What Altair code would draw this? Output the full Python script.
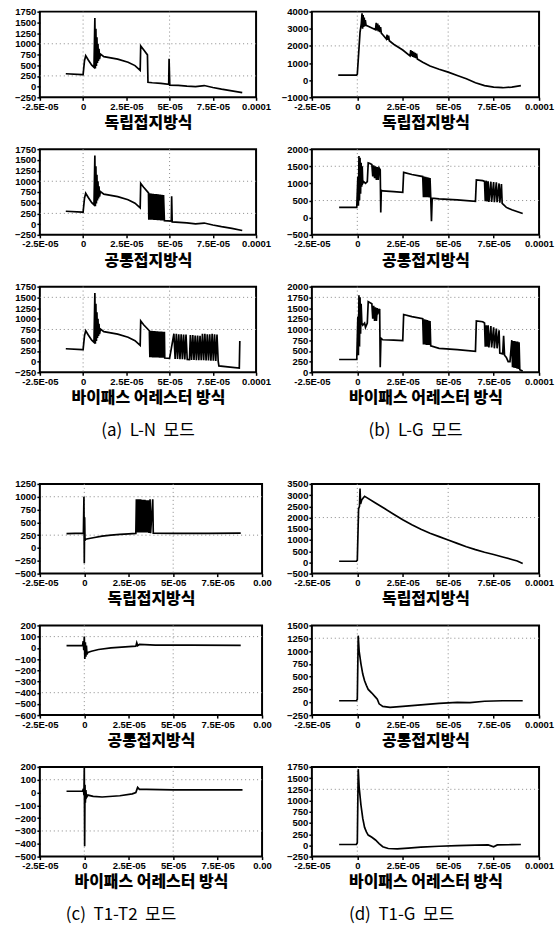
import altair as alt
import pandas as pd

# ---------------- axis ticks / labels ----------------
X_TICKS = [-25, 0, 25, 50, 75, 100]
X_LABELS = ["-2.5E-05", "0", "2.5E-05", "5E-05", "7.5E-05", "0.0001"]
X_LABELS_C = ["-2.5E-05", "0", "2.5E-05", "5E-05", "7.5E-05", "0.00"]
X_GRID = [0, 50]

Y_A = [-250, 0, 250, 500, 750, 1000, 1250, 1500, 1750]
Y_B1 = [-1000, 0, 1000, 2000, 3000, 4000]
Y_B2 = [-500, 0, 500, 1000, 1500, 2000]
Y_B3 = [0, 250, 500, 750, 1000, 1250, 1500, 1750, 2000]
Y_C1 = [-500, -250, 0, 250, 500, 750, 1000, 1250]
Y_C2 = [-600, -500, -400, -300, -200, -100, 0, 100, 200]
Y_C3 = [-500, -400, -300, -200, -100, 0, 100, 200]
Y_D1 = [-500, 0, 500, 1000, 1500, 2000, 2500, 3000, 3500]
Y_D2 = [-250, 0, 250, 500, 750, 1000, 1250, 1500]
Y_D3 = [-250, 0, 250, 500, 750, 1000, 1250, 1500, 1750]

G_A1 = [250, 1000]
G_A2 = [250, 1000]
G_A3 = [750, 1500]
G_B1 = [2000]
G_B2 = [500, 1500]
G_B3 = [1000, 1750]
G_C1 = [250, 1000]
G_C2 = [-400, 100]
G_C3 = [-300, 100]
G_D1 = [2000]
G_D2 = [1250]
G_D3 = [1250]

NB = "\u00a0\u00a0"
PANEL_TITLES = ["독립접지방식", "공통접지방식", "바이패스 어레스터 방식"]
CAPTIONS = [f"(a){NB}L-N{NB}모드", f"(b){NB}L-G{NB}모드",
            f"(c){NB}T1-T2{NB}모드", f"(d){NB}T1-G{NB}모드"]

# ---------------- waveforms (time in microseconds, value) ----------------
A_HEAD = [(-10, 300), (-0.5, 280), (0, 280), (0.8, 600), (1.5, 720), (3, 620), (5, 500),
          (6.3, 450), (6.8, 1600), (7.1, 420), (7.4, 1350), (7.7, 480), (8.0, 1150),
          (8.3, 550), (8.6, 1000), (8.9, 600), (9.2, 880), (9.5, 640), (10, 760),
          (12, 700), (20, 640), (26, 570), (30, 490), (33, 380), (33.3, 950), (35, 860)]

A1 = A_HEAD + [(37.2, 740), (37.5, 100), (40, 90), (45, 75), (49.5, 55), (49.7, 650),
               (50.1, 35), (55, 30), (60, 10), (65, 0), (70, 25), (75, -20), (80, -60),
               (86, -100), (92, -140)]

A2 = A_HEAD + [(37.8, 730),
               (38.0, 100), (38.5, 720), (39.0, 100), (39.5, 715), (40.0, 100), (40.5, 710),
               (41.0, 95), (41.5, 705), (42.0, 95), (42.5, 700), (43.0, 90), (43.5, 695),
               (44.0, 90), (44.5, 690), (45.0, 85), (45.5, 685), (46.0, 85), (46.5, 680),
               (47.0, 80),
               (51.0, 70), (51.2, 650), (51.5, 50), (60, 30), (65, 5), (70, 25), (75, -20),
               (80, -60), (86, -100), (92, -150)]

A3 = A_HEAD + [(38.3, 720),
               (38.6, 100), (39.0, 720), (39.4, 100), (39.8, 718), (40.2, 98), (40.6, 715),
               (41.0, 98), (41.4, 712), (41.8, 96), (42.2, 710), (42.6, 95), (43.0, 708),
               (43.4, 94), (43.8, 705), (44.2, 92), (44.6, 702), (45.0, 90), (45.4, 700),
               (45.8, 90), (46.2, 698), (46.6, 88), (47.0, 695), (47.2, 85),
               (50, 75), (52.5, 650), (53.2, 60), (53.9, 650), (54.6, 60), (55.3, 640),
               (56.0, 55), (56.7, 640), (57.4, 55), (58.1, 630), (58.8, 50), (59.5, 630),
               (60.2, 50), (61.5, 45),
               (62.0, 620), (62.7, 40), (63.4, 620), (64.1, 40), (64.8, 610), (65.5, 35),
               (66.2, 610), (66.9, 35), (67.6, 600), (68.3, 35),
               (69.0, 650), (69.7, 30), (70.4, 650), (71.1, 25), (71.8, 640), (72.5, 25),
               (73.2, 640), (73.9, 20), (74.6, 650), (75.3, 20), (76.0, 640), (76.7, 15),
               (77.4, 630), (78.1, 10),
               (78.5, -100), (85, -130), (90.3, -150), (90.6, 480)]

B1 = [(-10.5, 300), (-0.5, 300), (0, 350), (1.5, 2800), (2.2, 3300), (2.6, 3900), (2.9, 3000),
      (3.2, 3800), (3.5, 3100), (3.8, 3650), (4.1, 3150), (4.4, 3500), (4.8, 3200), (6, 3150),
      (8, 3050), (10, 2950), (10.4, 3350), (10.8, 2900), (11.2, 3300), (11.6, 2850),
      (12.0, 3200), (12.4, 2800), (12.8, 3100), (13.2, 2750), (14, 2650), (16, 2400),
      (16.4, 2650), (16.8, 2350), (17.2, 2600), (17.6, 2300), (20, 2100), (25, 1760),
      (29, 1420), (29.4, 1750), (29.8, 1400), (30.2, 1700), (30.6, 1360), (31.0, 1650),
      (31.4, 1320), (31.8, 1600), (32.2, 1280), (32.6, 1550), (33, 1240), (36, 1050),
      (40, 830), (45, 640), (50, 470), (55, 270), (60, 80), (65, -150), (70, -320),
      (75, -410), (80, -440), (85, -400), (90, -320)]

B2 = [(-10, 300), (-0.3, 300), (0.3, 1200), (0.6, 350), (0.9, 1800), (1.2, 500), (1.5, 1750),
      (1.8, 700), (2.1, 1600), (2.4, 900), (2.7, 1500), (3.0, 1000), (3.5, 1050), (4.5, 1000),
      (5.5, 1050), (6, 1600), (7, 1580), (8, 1550), (8.5, 1200), (9, 1530), (9.5, 1150),
      (10, 1500), (10.5, 1100), (11, 1480), (11.5, 1100), (12, 1450), (12.6, 1400),
      (12.9, 150), (13.2, 800), (14, 780), (20, 760), (25, 740), (25.5, 1320), (30, 1260),
      (36, 1200), (36.4, 600), (36.8, 1200), (37.2, 600), (37.6, 1190), (38, 600),
      (38.4, 1180), (38.8, 600), (39.2, 1170), (39.6, 590), (40, 1160), (40.4, 590),
      (40.8, -100), (41.2, 570), (45, 550), (55, 520), (65, 480), (65.5, 1100), (69, 1080),
      (70, 1060), (70.4, 480), (71, 1080), (71.4, 470), (72, 1060), (72.4, 460), (73.5, 1050),
      (73.9, 460), (75, 1040), (75.4, 450), (76.5, 1030), (76.9, 450), (78, 1000),
      (78.4, 440), (79.3, 980), (79.7, 420), (82, 300), (85, 230), (91, 120)]

B3 = [(-10, 300), (-0.3, 300), (0.3, 1300), (0.6, 400), (0.9, 1800), (1.2, 600), (1.5, 1750),
      (1.8, 900), (2.1, 1600), (2.5, 1150), (3, 1100), (4, 1150), (4.5, 1050), (5.5, 1150),
      (6, 1650), (8, 1600), (8.5, 1250), (9, 1550), (9.5, 1200), (10, 1520), (10.5, 1200),
      (11, 1500), (11.5, 1400), (12.3, 1480), (12.6, 120), (13, 800), (14, 760), (20, 750),
      (25, 740), (25.5, 1350), (30, 1300), (36, 1250), (36.4, 650), (36.8, 1240), (37.2, 650),
      (37.6, 1230), (38, 640), (38.4, 1220), (38.8, 640), (39.2, 1210), (39.6, 640),
      (40, 1200), (40.4, 620), (45, 560), (55, 530), (65, 490), (65.5, 1200), (69, 1180),
      (70, 1150), (70.4, 600), (71, 1100), (71.4, 600), (72, 1100), (72.4, 580), (73.5, 1080),
      (73.9, 580), (75, 1050), (75.4, 560), (76.5, 1020), (76.9, 560), (78, 980), (78.4, 450),
      (80, 430), (80.5, 850), (81, 400), (82, 350), (83, 250), (84, 250), (85, 750),
      (85.4, 120), (85.8, 730), (86.2, 110), (86.6, 730), (87, 100), (87.4, 720), (87.8, 90),
      (88.2, 720), (88.6, 80), (89, 700), (89.4, 60), (91, 30)]

C1 = [(-10, 280), (-0.5, 290), (-0.2, 1000), (0, -300), (0.2, 600), (0.4, 150), (0.8, 170),
      (2, 180), (5, 200), (10, 230), (15, 250), (20, 265), (25, 275), (29, 285),
      (29.3, 950), (29.6, 300), (29.9, 950), (30.2, 300), (30.5, 950), (30.8, 300),
      (31.1, 950), (31.4, 300), (31.7, 950), (32.0, 300), (32.3, 940), (32.6, 300),
      (32.9, 940), (33.2, 300), (33.5, 940), (33.8, 300), (34.1, 940), (34.4, 300),
      (34.7, 930), (35.0, 300), (35.3, 930), (35.6, 300), (36.0, 930), (36.4, 295),
      (37.0, 950), (37.3, 290), (38.5, 950), (38.8, 290), (50, 285), (70, 285), (88, 290)]

C2 = [(-10, 20), (-1, 20), (-0.6, 60), (-0.3, -20), (0, 100), (0.3, -100), (0.6, 50),
      (0.9, -80), (1.2, 20), (1.5, -60), (2, -40), (4, -30), (8, -15), (15, 0), (25, 10),
      (29, 15), (29.5, 45), (30, 20), (31, 30), (40, 25), (60, 25), (88, 22)]

C3 = [(-10, 10), (-1, 10), (-0.5, 30), (-0.2, -20), (0, 200), (0.2, -420), (0.4, 60),
      (0.6, -80), (0.9, 20), (1.2, -40), (2, -20), (5, -30), (10, -35), (20, -25), (27, -10),
      (29, 0), (30, 40), (31, 25), (35, 25), (50, 20), (70, 20), (89, 20)]

D1 = [(-10, 50), (-0.5, 50), (0, 100), (0.7, 2400), (1.2, 2500), (1.5, 3300), (1.8, 2600),
      (2.5, 2800), (4, 2950), (5, 2900), (10, 2650), (15, 2400), (20, 2150), (25, 1900),
      (30, 1680), (35, 1480), (40, 1300), (45, 1150), (50, 1000), (55, 850), (60, 700),
      (65, 570), (70, 450), (75, 350), (80, 240), (85, 130), (88, 60), (91, -50)]

D2 = [(-10, 30), (-0.5, 30), (0, 60), (0.5, 1300), (1, 1000), (2, 750), (3, 550), (4, 420),
      (5, 330), (6, 250), (8, 180), (10, 100), (11, 60), (12, -30), (14, -80), (18, -100),
      (25, -80), (35, -50), (45, -20), (55, 0), (62, -5), (70, 20), (80, 30), (91, 30)]

D3 = [(-10, 20), (-0.5, 20), (0, 60), (0.5, 1700), (1, 1300), (2, 900), (3, 600), (4, 400),
      (5, 300), (6, 230), (8, 180), (10, 120), (12, 40), (14, -30), (17, -70), (22, -80),
      (28, -60), (35, -40), (45, -20), (55, -5), (65, 5), (72, 10), (75, -30), (77, 10),
      (85, 15), (90, 20)]


def label_expr(ticks, labels):
    expr = "''"
    for t, l in reversed(list(zip(ticks, labels))):
        expr = f"datum.value == {t} ? '{l}' : ({expr})"
    return expr


LABEL_FONT = "Liberation Sans"


def panel(pairs, yvals, ygrid, title, xlabels, w, h, caption=None, cap_dx=0):
    df = pd.DataFrame(pairs, columns=["t", "v"])
    xs = alt.Scale(domain=[X_TICKS[0], X_TICKS[-1]], nice=False, zero=False)
    ys = alt.Scale(domain=[yvals[0], yvals[-1]], nice=False, zero=False)
    xaxis = alt.Axis(values=X_TICKS, labelExpr=label_expr(X_TICKS, xlabels), title=title,
                     grid=False, domain=False, ticks=True, tickSize=3, tickColor="black",
                     tickWidth=1.5, labelFont=LABEL_FONT, labelFontSize=9.5,
                     labelFontWeight="bold", labelColor="black", labelPadding=1,
                     labelOverlap=False, labelFlush=False, titleFont="Noto Sans CJK KR",
                     titleFontSize=16, titleFontWeight=900, titleColor="black",
                     titlePadding=4)
    yaxis = alt.Axis(values=yvals, format="d", title=None, grid=False, domain=False,
                     ticks=True, tickSize=3, tickColor="black", tickWidth=1.5,
                     labelFont=LABEL_FONT, labelFontSize=9.5, labelFontWeight="bold",
                     labelColor="black", labelPadding=1, labelOverlap=False,
                     labelFlush=False)
    gx = alt.Chart(pd.DataFrame({"t": X_GRID})).mark_rule(
        color="#888", strokeDash=[1, 3], strokeWidth=1).encode(
        x=alt.X("t:Q", scale=xs, axis=xaxis))
    gy = alt.Chart(pd.DataFrame({"v": ygrid})).mark_rule(
        color="#888", strokeDash=[1, 3], strokeWidth=1).encode(
        y=alt.Y("v:Q", scale=ys, axis=yaxis))
    line = alt.Chart(df).mark_line(color="black", strokeWidth=1.7, clip=True).encode(
        x=alt.X("t:Q", scale=xs, axis=xaxis),
        y=alt.Y("v:Q", scale=ys, axis=yaxis),
        order="idx:Q",
    ).transform_window(idx="row_number()")
    ch = alt.layer(gx, gy, line).properties(width=w, height=h)
    if caption:
        ch = ch.properties(title=alt.TitleParams(
            caption, orient="bottom", anchor="middle", font="Noto Sans CJK KR",
            fontSize=17, fontWeight="normal", color="black", offset=17, dx=cap_dx))
    return ch


WL, WR = 223, 228
HT, HB = 86, 90

a1 = panel(A1, Y_A, G_A1, PANEL_TITLES[0], X_LABELS, 217, HT)
a2 = panel(A2, Y_A, G_A2, PANEL_TITLES[1], X_LABELS, 217, HT)
a3 = panel(A3, Y_A, G_A3, PANEL_TITLES[2], X_LABELS, 217, HT, CAPTIONS[0], 0)
b1 = panel(B1, Y_B1, G_B1, PANEL_TITLES[0], X_LABELS, WR, HT)
b2 = panel(B2, Y_B2, G_B2, PANEL_TITLES[1], X_LABELS, WR, HT)
b3 = panel(B3, Y_B3, G_B3, PANEL_TITLES[2], X_LABELS, WR, HT, CAPTIONS[1], -10)
c1 = panel(C1, Y_C1, G_C1, PANEL_TITLES[0], X_LABELS_C, WL, HB)
c2 = panel(C2, Y_C2, G_C2, PANEL_TITLES[1], X_LABELS_C, WL, HB)
c3 = panel(C3, Y_C3, G_C3, PANEL_TITLES[2], X_LABELS_C, WL, HB, CAPTIONS[2], -30)
d1 = panel(D1, Y_D1, G_D1, PANEL_TITLES[0], X_LABELS, WR, HB)
d2 = panel(D2, Y_D2, G_D2, PANEL_TITLES[1], X_LABELS, WR, HB)
d3 = panel(D3, Y_D3, G_D3, PANEL_TITLES[2], X_LABELS, WR, HB, CAPTIONS[3], -24)


def spacer():
    return alt.Chart(pd.DataFrame({"t": [0]})).mark_point(opacity=0).encode(
        x=alt.X("t:Q", axis=None), y=alt.Y("t:Q", axis=None)
    ).properties(width=10, height=8, view=alt.ViewBackground(strokeOpacity=0))


chart = alt.concat(
    a1, b1, a2, b2, a3, b3, spacer(), spacer(), c1, d1, c2, d2, c3, d3,
    columns=2, spacing={"row": 52, "column": 50}, bounds="flush",
).properties(
    padding={"left": 13, "top": 4, "right": 0, "bottom": 0},
    background="white",
).configure_view(stroke="black", strokeWidth=2)

chart.save("out.html", embed_options={"renderer": "svg", "actions": False})
